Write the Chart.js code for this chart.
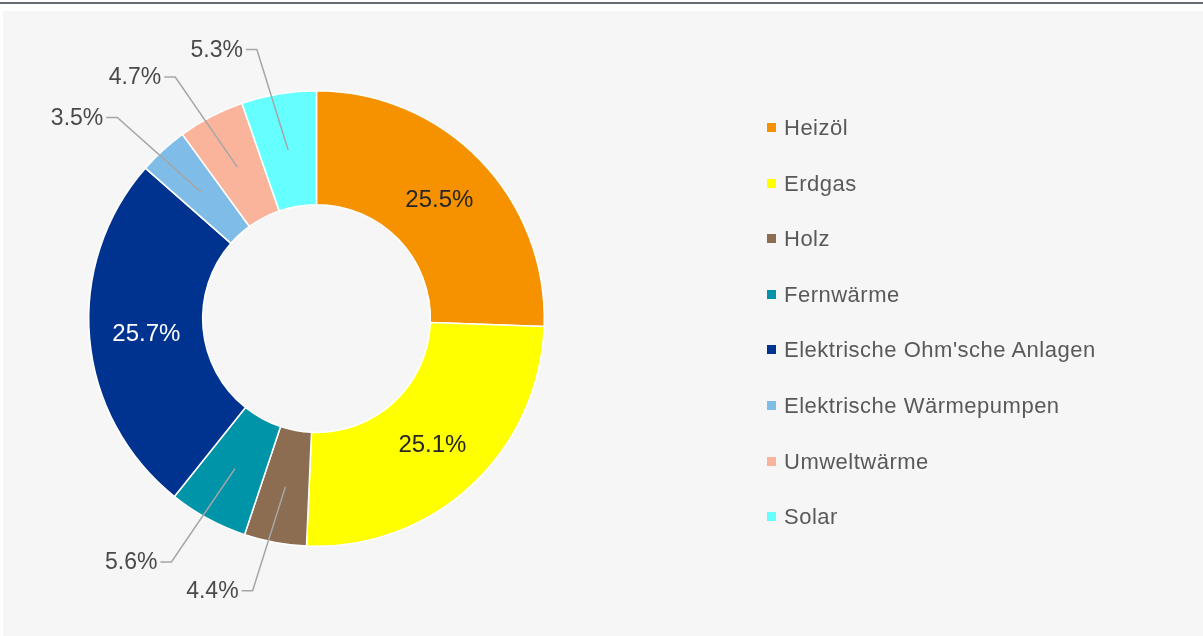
<!DOCTYPE html>
<html>
<head>
<meta charset="utf-8">
<script src="https://cdn.jsdelivr.net/npm/chart.js@4.4.1/dist/chart.umd.min.js"></script>
<style>
  html, body { margin: 0; padding: 0; background: #fff; }
  body { width: 1203px; height: 636px; position: relative; overflow: hidden; font-family: "Liberation Sans", Arial, sans-serif; }
  #topline { position: absolute; left: 0; top: 2px; width: 1203px; height: 2px; background: #646b73; }
  #panel { position: absolute; left: 3px; top: 11px; width: 1200px; height: 625px; background: #f6f6f6; }
  #chart { position: absolute; left: 0; top: 0; }
  #legend { position: absolute; left: 764px; top: 0; }
  .item { position: absolute; left: 0; height: 24px; white-space: nowrap; color: #595959; font-size: 22px; letter-spacing: 0.5px; line-height: 24px; }
  .item i { position: absolute; left: 0; top: 7px; width: 9px; height: 9px; }
  .item span { position: absolute; left: 17px; top: 0; }
</style>
</head>
<body>
<div id="topline"></div>
<div id="panel">
  <canvas id="chart" width="1200" height="625"></canvas>
  <div id="legend"></div>
</div>
<script>
// energy sources and their share in percent
const sources = ['Heizöl', 'Erdgas', 'Holz', 'Fernwärme', 'Elektrische Ohm\'sche Anlagen', 'Elektrische Wärmepumpen', 'Umweltwärme', 'Solar'];
const shares = [25.5, 25.1, 4.4, 5.6, 25.7, 3.5, 4.7, 5.3];
const colors = ['#f69200', '#ffff00', '#8c6d52', '#0094a8', '#00338f', '#80bce8', '#fbb49c', '#66ffff'];
const labelColors = ['#262626', '#262626', '#4a4a4a', '#4a4a4a', '#ffffff', '#4a4a4a', '#4a4a4a', '#4a4a4a'];

// percentage labels, big slices inside, small ones outside with a leader line
const pctLabels = {
  id: 'pctLabels',
  afterDatasetsDraw(chart) {
    const ctx = chart.ctx;
    const meta = chart.getDatasetMeta(0);
    ctx.save();
    meta.data.forEach((arc, i) => {
      const p = arc.getProps(['x', 'y', 'startAngle', 'endAngle', 'innerRadius', 'outerRadius']);
      const mid = (p.startAngle + p.endAngle) / 2;
      const rMid = (p.innerRadius + p.outerRadius) / 2;
      const ax = p.x + Math.cos(mid) * rMid;
      const ay = p.y + Math.sin(mid) * rMid;
      const txt = shares[i].toFixed(1) + '%';
      ctx.fillStyle = labelColors[i];
      if (shares[i] >= 10) {
        ctx.font = '24px "Liberation Sans", Arial, sans-serif';
        ctx.textAlign = 'center';
        ctx.textBaseline = 'middle';
        ctx.fillText(txt, ax, ay + 1);
      } else {
        const rOut = p.outerRadius + 47;
        const ex = p.x + Math.cos(mid) * rOut - 14;
        const ey = p.y + Math.sin(mid) * rOut + 2;
        ctx.strokeStyle = '#a6a6a6';
        ctx.lineWidth = 1.5;
        ctx.beginPath();
        ctx.moveTo(ax, ay);
        ctx.lineTo(ex, ey);
        ctx.lineTo(ex - 11, ey);
        ctx.stroke();
        ctx.font = '23px "Liberation Sans", Arial, sans-serif';
        ctx.textAlign = 'right';
        ctx.textBaseline = 'middle';
        ctx.fillText(txt, ex - 14, ey + 1);
      }
    });
    ctx.restore();
  }
};

new Chart(document.getElementById('chart'), {
  type: 'doughnut',
  data: {
    labels: sources,
    datasets: [{
      data: shares,
      backgroundColor: colors,
      borderColor: '#ffffff',
      borderWidth: 1.5,
      hoverOffset: 0
    }]
  },
  options: {
    responsive: false,
    animation: false,
    cutout: '50%',
    layout: { padding: { left: 85, right: 658, top: 79, bottom: 89 } },
    plugins: {
      legend: { display: false },
      tooltip: { enabled: false }
    }
  },
  plugins: [pctLabels]
});

// legend on the right
const legend = document.getElementById('legend');
sources.forEach((name, i) => {
  const row = document.createElement('div');
  row.className = 'item';
  row.style.top = (117 - 12 + i * 55.6) + 'px';
  row.innerHTML = `<i style="background:${colors[i]}"></i><span>${name}</span>`;
  legend.appendChild(row);
});
</script>
</body>
</html>
